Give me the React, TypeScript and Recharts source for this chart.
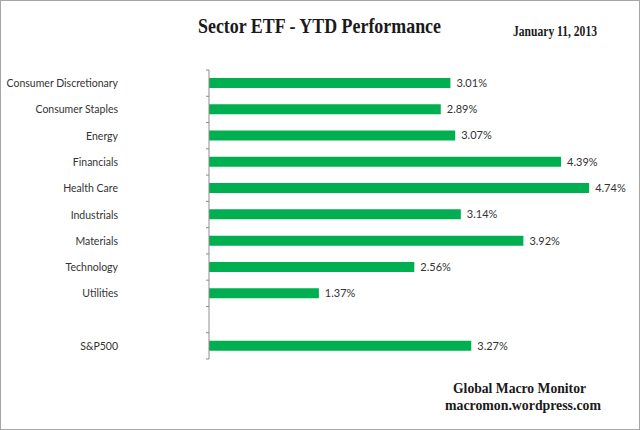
import React from 'react';
import { BarChart, Bar, XAxis, YAxis, LabelList } from 'recharts';

const categories = [
  'Consumer Discretionary',
  'Consumer Staples',
  'Energy',
  'Financials',
  'Health Care',
  'Industrials',
  'Materials',
  'Technology',
  'Utilities',
  ' ',
  'S&P500',
];
const ytdValues: (number | null)[] = [3.01, 2.89, 3.07, 4.39, 4.74, 3.14, 3.92, 2.56, 1.37, null, 3.27];

const data = categories.map((name, i) => ({ name, value: ytdValues[i] }));

const TITLE = 'Sector ETF - YTD Performance';
const DATE = 'January 11, 2013';
const FOOT1 = 'Global Macro Monitor';
const FOOT2 = 'macromon.wordpress.com';

const AXIS_GRAY = '#8c8c8c';
const LABEL_SHIFT = 91;

const CatTick = (props: any) => {
  const { x, y, payload, index, visibleTicksCount } = props;
  const off = payload && typeof payload.offset === 'number' ? payload.offset : 13.15;
  const ax = x + LABEL_SHIFT;
  const isLast = index === (visibleTicksCount ?? categories.length) - 1;
  return (
    <g>
      <text
        x={x}
        y={y}
        dy={4}
        textAnchor="end"
        fontFamily="Lato, 'Noto Sans', sans-serif"
        fontSize={10.5}
        fill="#333333"
      >
        {payload.value}
      </text>
      <line x1={ax - 3} x2={ax} y1={y - off} y2={y - off} stroke={AXIS_GRAY} strokeWidth={1} />
      {isLast && (
        <line x1={ax - 3} x2={ax} y1={y + off} y2={y + off} stroke={AXIS_GRAY} strokeWidth={1} />
      )}
    </g>
  );
};

export default function App() {
  return (
    <div
      style={{
        position: 'absolute',
        left: 0,
        top: 0,
        width: 640,
        height: 430,
        boxSizing: 'border-box',
        border: '1px solid #a6a6a6',
        background: '#ffffff',
      }}
    >
      <div style={{ position: 'absolute', left: -1, top: -1 }}>
        <BarChart
          width={640}
          height={430}
          data={data}
          layout="vertical"
          margin={{ top: 70, right: 30, bottom: 71, left: 0 }}
        >
          <XAxis type="number" domain={[0, 5]} hide />
          <YAxis
            type="category"
            dataKey="name"
            width={209}
            tickLine={false}
            tickSize={0}
            tickMargin={LABEL_SHIFT}
            axisLine={{ stroke: AXIS_GRAY, strokeWidth: 1 }}
            tick={<CatTick />}
            interval={0}
          />
          <Bar dataKey="value" fill="#00b050" barSize={10} isAnimationActive={false}>
            <LabelList
              dataKey="value"
              position="right"
              offset={6}
              formatter={(v: any) => (v == null ? '' : `${Number(v).toFixed(2)}%`)}
              style={{ fontFamily: "Lato, 'Noto Sans', sans-serif", fontSize: 11, fill: '#333333' }}
            />
          </Bar>
        </BarChart>
      </div>
      <svg
        width={640}
        height={430}
        style={{ position: 'absolute', left: -1, top: -1, pointerEvents: 'none' }}
      >
        <text
          x={198}
          y={33}
          fontFamily="'Liberation Serif', 'Times New Roman', serif"
          fontWeight="bold"
          fontSize={21}
          fill="#1a1a1a"
          textLength={243}
          lengthAdjust="spacingAndGlyphs"
        >
          {TITLE}
        </text>
        <text
          x={513}
          y={36}
          fontFamily="'Liberation Serif', 'Times New Roman', serif"
          fontWeight="bold"
          fontSize={14}
          fill="#1a1a1a"
          textLength={84}
          lengthAdjust="spacingAndGlyphs"
        >
          {DATE}
        </text>
        <text
          x={453}
          y={393}
          fontFamily="'Liberation Serif', 'Times New Roman', serif"
          fontWeight="bold"
          fontSize={14}
          fill="#1a1a1a"
          textLength={133}
          lengthAdjust="spacingAndGlyphs"
        >
          {FOOT1}
        </text>
        <text
          x={445}
          y={410}
          fontFamily="'Liberation Serif', 'Times New Roman', serif"
          fontWeight="bold"
          fontSize={14}
          fill="#1a1a1a"
          textLength={156}
          lengthAdjust="spacingAndGlyphs"
        >
          {FOOT2}
        </text>
      </svg>
    </div>
  );
}
